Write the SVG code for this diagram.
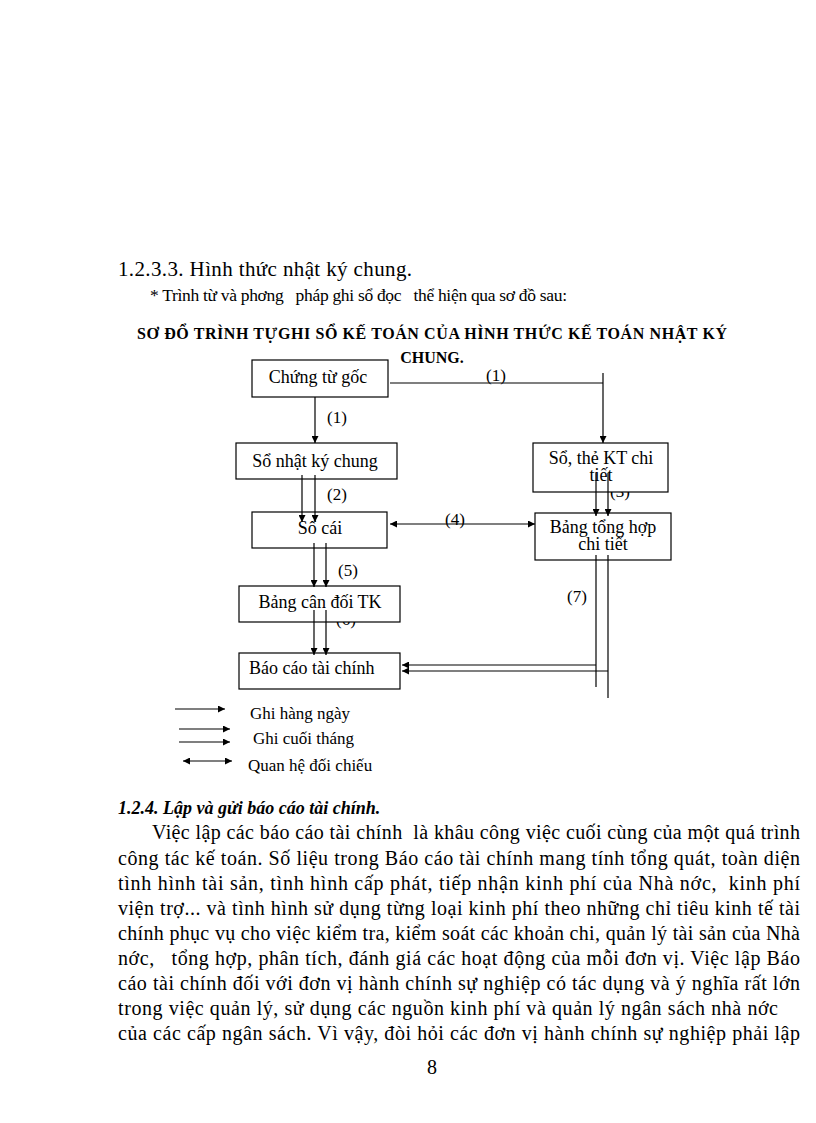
<svg xmlns="http://www.w3.org/2000/svg" width="816" height="1123" viewBox="0 0 816 1123">
<style>
text{font-family:"Liberation Serif","Times New Roman",serif;fill:#000;white-space:pre}
.box{fill:#fff;stroke:#000;stroke-width:1.2}
.bt{font-size:18px}
.lab{font-size:17px}
.ln{fill:none;stroke:#000;stroke-width:1.2}
.body{font-size:20px}
</style>
<defs>
<marker id="ah" viewBox="0 0 10 10" refX="10" refY="5" markerWidth="7" markerHeight="7" markerUnits="userSpaceOnUse" orient="auto-start-reverse">
<path d="M0,0 L10,5 L0,10 z" fill="#000"/>
</marker>
</defs>
<rect width="816" height="1123" fill="#fff"/>

<g id="header">
<text x="118" y="276" font-size="21" textLength="294" lengthAdjust="spacing">1.2.3.3. Hình thức nhật ký chung.</text>
<text x="150" y="301" font-size="17.5" textLength="417" lengthAdjust="spacing">* Trình từ và phơng   pháp ghi sổ đọc   thể hiện qua sơ đồ sau:</text>
<text x="137" y="339" font-size="16" font-weight="bold" textLength="590" lengthAdjust="spacing">SƠ ĐỔ TRÌNH TỰGHI SỔ KẾ TOÁN CỦA HÌNH THỨC KẾ TOÁN NHẬT KÝ</text>
<text x="432" y="363" font-size="16" font-weight="bold" text-anchor="middle">CHUNG.</text>
</g>

<g id="hidden-labels">
<text class="lab" x="620" y="497" text-anchor="middle">(3)</text>
<text class="lab" x="346" y="625" text-anchor="middle">(6)</text>
</g>

<g id="n-chung-tu-goc">
<rect class="box" x="252" y="360" width="136" height="37"/>
<text class="bt" x="318" y="383" text-anchor="middle">Chứng từ gốc</text>
</g>
<g id="n-so-nhat-ky-chung">
<rect class="box" x="236" y="443" width="161" height="36"/>
<text class="bt" x="315" y="467" text-anchor="middle">Sổ nhật ký chung</text>
</g>
<g id="n-so-the-kt">
<rect class="box" x="533" y="443" width="135" height="49"/>
<text class="bt" x="601" y="464" text-anchor="middle">Sổ, thẻ KT chi</text>
<text class="bt" x="601" y="481" text-anchor="middle">tiết</text>
</g>
<g id="n-so-cai">
<rect class="box" x="252" y="512" width="135" height="36"/>
<text class="bt" x="320" y="534" text-anchor="middle">Sổ cái</text>
</g>
<g id="n-bang-tong-hop">
<rect class="box" x="535" y="513" width="136" height="47"/>
<text class="bt" x="603" y="533" text-anchor="middle">Bảng tổng hợp</text>
<text class="bt" x="603" y="550" text-anchor="middle">chi tiết</text>
</g>
<g id="n-bang-can-doi">
<rect class="box" x="239" y="586" width="161" height="36"/>
<text class="bt" x="320" y="608" text-anchor="middle">Bảng cân đối TK</text>
</g>
<g id="n-bao-cao">
<rect class="box" x="239" y="653" width="161" height="36"/>
<text class="bt" x="249" y="674">Báo cáo tài chính</text>
</g>

<g id="connectors">
<line class="ln" x1="315" y1="397" x2="315" y2="443" marker-end="url(#ah)"/>
<line class="ln" x1="390" y1="383" x2="603" y2="383"/>
<line class="ln" x1="603" y1="373" x2="603" y2="443" marker-end="url(#ah)"/>
<line class="ln" x1="302" y1="475" x2="302" y2="522" marker-end="url(#ah)"/>
<line class="ln" x1="315" y1="475" x2="315" y2="522" marker-end="url(#ah)"/>
<line class="ln" x1="596" y1="473" x2="596" y2="516" marker-end="url(#ah)"/>
<line class="ln" x1="608" y1="473" x2="608" y2="516" marker-end="url(#ah)"/>
<line class="ln" x1="390" y1="524" x2="535" y2="524" marker-start="url(#ah)" marker-end="url(#ah)"/>
<line class="ln" x1="314" y1="543" x2="314" y2="587" marker-end="url(#ah)"/>
<line class="ln" x1="326" y1="543" x2="326" y2="587" marker-end="url(#ah)"/>
<line class="ln" x1="314" y1="610" x2="314" y2="655" marker-end="url(#ah)"/>
<line class="ln" x1="326" y1="610" x2="326" y2="655" marker-end="url(#ah)"/>
<line class="ln" x1="596" y1="555" x2="596" y2="687"/>
<line class="ln" x1="608" y1="555" x2="608" y2="698"/>
<line class="ln" x1="596" y1="665" x2="402" y2="665" marker-end="url(#ah)"/>
<line class="ln" x1="608" y1="671" x2="402" y2="671" marker-end="url(#ah)"/>
</g>

<g id="connector-labels">
<text class="lab" x="337" y="423" text-anchor="middle">(1)</text>
<text class="lab" x="496" y="381" text-anchor="middle">(1)</text>
<text class="lab" x="337" y="500" text-anchor="middle">(2)</text>
<text class="lab" x="455" y="525" text-anchor="middle">(4)</text>
<text class="lab" x="348" y="576" text-anchor="middle">(5)</text>
<text class="lab" x="577" y="602" text-anchor="middle">(7)</text>
</g>

<g id="legend">
<line class="ln" x1="175" y1="709" x2="225" y2="709" marker-end="url(#ah)"/>
<text class="lab" x="250" y="719">Ghi hàng ngày</text>
<line class="ln" x1="179" y1="729" x2="230" y2="729" marker-end="url(#ah)"/>
<line class="ln" x1="179" y1="742" x2="230" y2="742" marker-end="url(#ah)"/>
<text class="lab" x="253" y="744">Ghi cuối tháng</text>
<line class="ln" x1="183" y1="761" x2="232" y2="761" marker-start="url(#ah)" marker-end="url(#ah)"/>
<text class="lab" x="248" y="771">Quan hệ đối chiếu</text>
</g>

<g id="body">
<text x="118" y="814" font-size="18" font-weight="bold" font-style="italic">1.2.4. Lập và gửi báo cáo tài chính.</text>
<text class="body" x="152" y="839" textLength="648" lengthAdjust="spacing">Việc lập các báo cáo tài chính  là khâu công việc cuối cùng của một quá trình</text>
<text class="body" x="118" y="865" textLength="682" lengthAdjust="spacing">công tác kế toán. Số liệu trong Báo cáo tài chính mang tính tổng quát, toàn diện</text>
<text class="body" x="118" y="890" textLength="682" lengthAdjust="spacing">tình hình tài sản, tình hình cấp phát, tiếp nhận kinh phí của Nhà nớc,  kinh phí</text>
<text class="body" x="118" y="915" textLength="682" lengthAdjust="spacing">viện trợ... và tình hình sử dụng từng loại kinh phí theo những chỉ tiêu kinh tế tài</text>
<text class="body" x="118" y="940" textLength="682" lengthAdjust="spacing">chính phục vụ cho việc kiểm tra, kiểm soát các khoản chi, quản lý tài sản của Nhà</text>
<text class="body" x="118" y="965" textLength="682" lengthAdjust="spacing">nớc,   tổng hợp, phân tích, đánh giá các hoạt động của mỗi đơn vị. Việc lập Báo</text>
<text class="body" x="118" y="990" textLength="682" lengthAdjust="spacing">cáo tài chính đối với đơn vị hành chính sự nghiệp có tác dụng và ý nghĩa rất lớn</text>
<text class="body" x="118" y="1015" textLength="660" lengthAdjust="spacing">trong việc quản lý, sử dụng các nguồn kinh phí và quản lý ngân sách nhà nớc</text>
<text class="body" x="118" y="1040" textLength="682" lengthAdjust="spacing">của các cấp ngân sách. Vì vậy, đòi hỏi các đơn vị hành chính sự nghiệp phải lập</text>
<text class="body" x="432" y="1074" text-anchor="middle">8</text>
</g>
</svg>
